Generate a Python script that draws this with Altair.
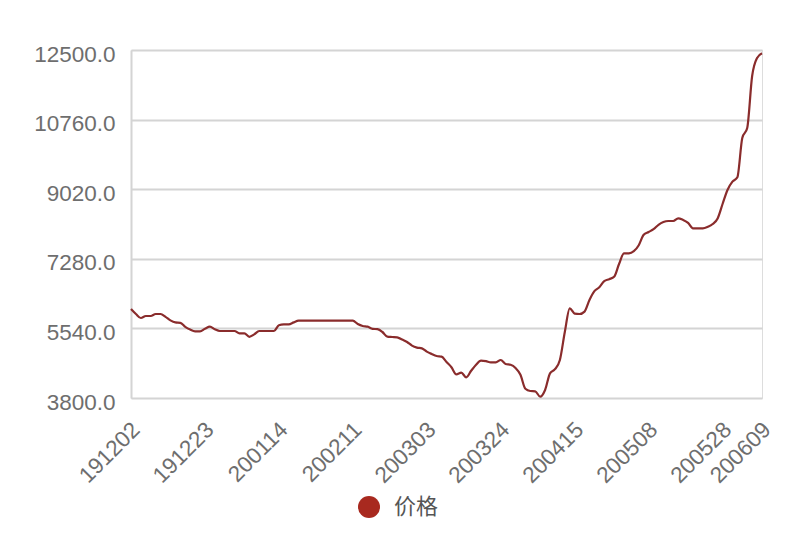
import altair as alt
import pandas as pd

# Daily price series (trading days, 191202 .. 200609)
prices = [
    6025, 5900, 5800, 5850, 5850, 5900, 5900, 5830, 5740, 5690,
    5680, 5580, 5510, 5467, 5467, 5530, 5583, 5520, 5475, 5475,
    5475, 5475, 5417, 5417, 5330, 5390, 5475, 5475, 5475, 5475,
    5620, 5640, 5642, 5690, 5733, 5733, 5733, 5733, 5733, 5733,
    5733, 5733, 5733, 5733, 5733, 5733, 5650, 5600, 5583, 5530,
    5520, 5450, 5333, 5325, 5317, 5260, 5200, 5110, 5060, 5042,
    4960, 4900, 4850, 4835, 4700, 4570, 4390, 4433, 4317, 4480,
    4630, 4733, 4720, 4692, 4692, 4750, 4650, 4630, 4550, 4380,
    4030, 3975, 3967, 3833, 4000, 4417, 4520, 4750, 5450, 6042,
    5910, 5900, 5960, 6250, 6470, 6570, 6720, 6770, 6830, 7150,
    7417, 7417, 7470, 7620, 7880, 7950, 8020, 8130, 8200, 8225,
    8225, 8292, 8250, 8180, 8042, 8042, 8042, 8080, 8150, 8290,
    8650, 9000, 9208, 9317, 10300, 10550, 11850, 12300, 12420,
]

# Category positions that carry a date label, and those labels
tick_index = [0, 15, 30, 45, 60, 75, 90, 105, 120, 128]
tick_labels = ["191202", "191223", "200114", "200211", "200303",
               "200324", "200415", "200508", "200528", "200609"]

y_ticks = [3800, 5540, 7280, 9020, 10760, 12500]

series_name = "价格"

df = pd.DataFrame({
    "idx": list(range(len(prices))),
    "price": prices,
    "series": [series_name] * len(prices),
})

label_map = "{" + ",".join(f"'{i}':'{l}'" for i, l in zip(tick_index, tick_labels)) + "}"

FONT = "Liberation Sans, Noto Sans CJK SC"
GRID = "#d4d4d4"
LABEL = "#6e6e6e"

chart = alt.Chart(df).mark_line(strokeWidth=2.2, interpolate="monotone").encode(
    x=alt.X(
        "idx:Q",
        scale=alt.Scale(domain=[0, len(prices) - 1], nice=False, zero=False),
        axis=alt.Axis(
            title=None,
            values=tick_index,
            labelExpr=f"{label_map}[''+datum.value]",
            labelAngle=-45,
            labelAlign="right",
            labelBaseline="top",
            labelFontSize=22.5,
            labelColor=LABEL,
            labelFont=FONT,
            labelPadding=20,
            labelOffset=-3,
            labelOverlap=False,
            labelBound=False,
            labelFlush=False,
            ticks=False,
            domain=False,
            grid=False,
        ),
    ),
    y=alt.Y(
        "price:Q",
        scale=alt.Scale(domain=[3800, 12500], nice=False, zero=False),
        axis=alt.Axis(
            title=None,
            values=y_ticks,
            format=".1f",
            labelFontSize=22.5,
            labelColor=LABEL,
            labelFont=FONT,
            labelPadding=16,
            labelOffset=4,
            ticks=False,
            domain=True,
            domainColor=GRID,
            domainWidth=2,
            grid=True,
            gridColor=GRID,
            gridWidth=2,
        ),
    ),
    color=alt.Color(
        "series:N",
        scale=alt.Scale(range=["#8a2c2c"]),
        legend=alt.Legend(
            title=None,
            orient="none",
            legendX=227,
            legendY=446,
            symbolType="circle",
            symbolSize=484,
            symbolFillColor="#a8291f",
            symbolStrokeColor="#a8291f",
            symbolStrokeWidth=0,
            labelFontSize=22,
            labelFont=FONT,
            labelColor="#555555",
            labelOffset=14,
            padding=0,
        ),
    ),
).properties(
    width=631,
    height=348,
    autosize=alt.AutoSizeParams(type="none"),
    padding={"left": 123, "top": 42, "right": 30, "bottom": 130},
).configure_view(stroke=None).configure(background="white")

chart.save("out.html", embed_options={"renderer": "svg", "actions": False})
